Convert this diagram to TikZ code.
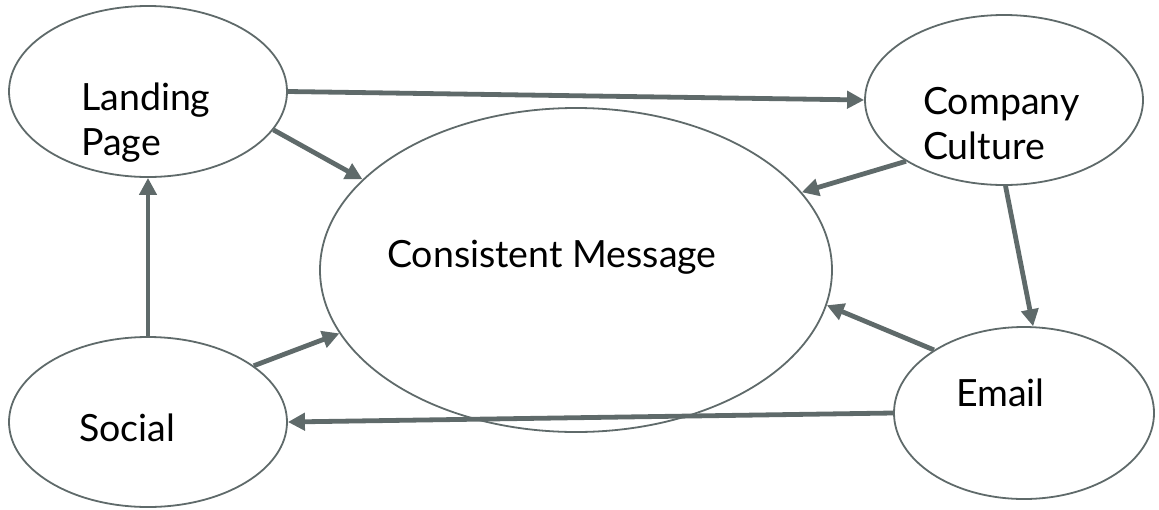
\documentclass[tikz,border=0pt]{standalone}
\usepackage{fontspec}
\setmainfont{Lato}
\usetikzlibrary{shapes.geometric,arrows.meta}
\definecolor{edgegray}{HTML}{5F6A6A}
\tikzset{
  bubble/.style={draw=edgegray, line width=1.8pt, ellipse, inner sep=0pt, fill=none},
  lbl/.style={font=\fontsize{37.5}{44.5}\selectfont, anchor=base west, inner sep=0pt, align=left},
  conn/.style={draw=edgegray, line width=4.8pt, -{Triangle[length=17pt,width=17pt]}}
}
\begin{document}
\begin{tikzpicture}[x=1pt,y=1pt]
\useasboundingbox (0,0) rectangle (1159,-509);
% ellipses
\node[bubble, minimum width=278pt, minimum height=171pt] (lp) at (148,-91.5) {};
\node[bubble, minimum width=278pt, minimum height=170pt] (cc) at (1004,-100) {};
\node[bubble, minimum width=512pt, minimum height=324pt] (cm) at (576,-270) {};
\node[bubble, minimum width=278pt, minimum height=170pt] (so) at (148,-422) {};
\node[bubble, minimum width=260pt, minimum height=172pt] (em) at (1024,-413) {};
% labels (base anchor = baseline of the last line)
\node[lbl] (lpt) at (81,-155) {Landing\\Page};
\node[lbl] (cct) at (923,-159) {Company\\Culture};
\node[lbl] (cmt) at (387,-267) {Consistent Message};
\node[lbl] (sot) at (79,-441) {Social};
\node[lbl] (emt) at (956,-406) {Email};
% connectors
\draw[conn] (lp.-0.6) -- (cc.180.4);
\draw[conn] (lp.-17) -- (cm.157.6);
\draw[conn] (cc.212.6) -- (cm.19.9);
\draw[conn] (cc.-89.3) -- (em.84);
\draw[conn] (em.145.6) -- (cm.-8.6);
\draw[conn] (em.180) -- (so.-0.4);
\draw[conn] (so.28) -- (cm.195.3);
\draw[conn] (so.90) -- (lp.270);
\end{tikzpicture}
\end{document}
